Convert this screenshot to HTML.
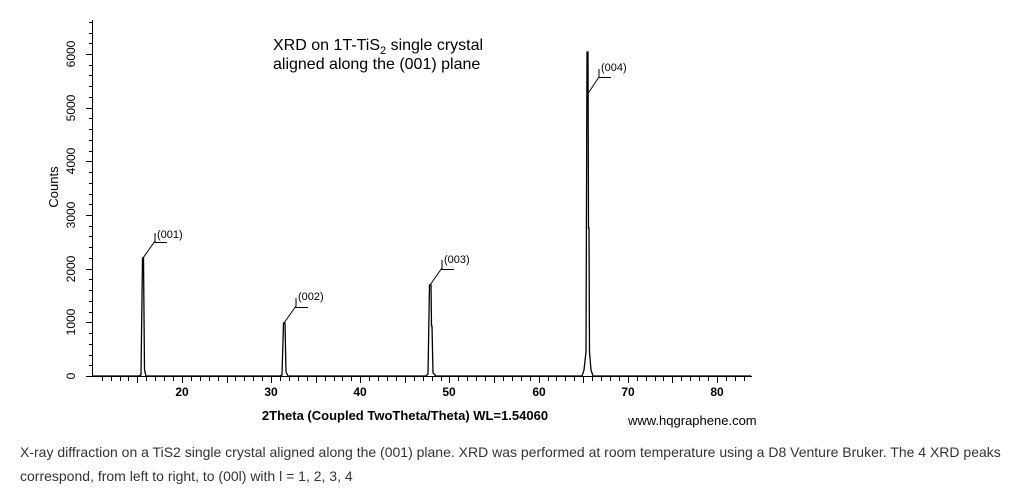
<!DOCTYPE html>
<html><head><meta charset="utf-8"><style>
body{margin:0;background:#fff;width:1013px;height:492px;overflow:hidden;font-family:"Liberation Sans",Arial,sans-serif}
.cap{position:absolute;left:20px;top:440px;width:990px;font-size:14px;line-height:24px;color:#333}
</style></head><body>
<svg width="1013" height="440" style="position:absolute;left:0;top:0" font-family="Liberation Sans, Arial, sans-serif">
<g stroke="#000" stroke-width="1" fill="none" shape-rendering="crispEdges">
<line x1="92.5" y1="20" x2="92.5" y2="377"/>
<line x1="92" y1="376.5" x2="752" y2="376.5"/>
</g>
<g id="ticks" stroke="#000" stroke-width="1" shape-rendering="crispEdges"></g>
<g font-size="12" text-anchor="middle" fill="#000">
<text transform="translate(75,376) rotate(-90)">0</text>
<text transform="translate(75,322) rotate(-90)">1000</text>
<text transform="translate(75,269) rotate(-90)">2000</text>
<text transform="translate(75,215) rotate(-90)">3000</text>
<text transform="translate(75,161) rotate(-90)">4000</text>
<text transform="translate(75,108) rotate(-90)">5000</text>
<text transform="translate(75,54) rotate(-90)">6000</text>
<text transform="translate(58,187) rotate(-90)" font-size="13">Counts</text>
</g>
<g font-size="12" font-weight="bold" text-anchor="middle">
<text x="182" y="396">20</text><text x="271" y="396">30</text><text x="360" y="396">40</text>
<text x="449" y="396">50</text><text x="539" y="396">60</text><text x="628" y="396">70</text><text x="717" y="396">80</text>
<text x="405" y="420" font-size="13">2Theta (Coupled TwoTheta/Theta) WL=1.54060</text>
</g>
<text x="628" y="425" font-size="13">www.hqgraphene.com</text>
<text x="273" y="50" font-size="16">XRD on 1T-TiS<tspan font-size="11" dy="4">2</tspan><tspan dy="-4"> single crystal</tspan></text>
<text x="273" y="69" font-size="16">aligned along the (001) plane</text>
<g stroke="#000" fill="none">
<path d="M92 376 H139 L141 375 L142.5 258 L143.5 258 L144.5 370 L146 376 H280 L282 375 L283.5 323 L285 323 L286 372 L288 376 H426 L428 374 L429.5 285 L431 285 L431.5 326 L432 326 L433 373 L436 376 H582 L584 370 L586 352 L587 52 L588 52 L588.5 228 L589 228 L589.5 352 L591 370 L593 376 H751" stroke-width="1.3"/>
<path d="M143 258 L155 241 M155 233 V243 M155 242.5 H167" stroke-width="1"/>
<path d="M284 323 L296 306 M296 298 V308 M296 307.5 H308"/>
<path d="M430 285 L442 268 M442 260 V270 M442 269.5 H454"/>
<path d="M587 95 L599 77 M599 69 V78 M599 77.5 H611"/>
</g>
<g font-size="11" fill="#000">
<text x="157" y="238">(001)</text><text x="298" y="300">(002)</text>
<text x="444" y="263">(003)</text><text x="601" y="71">(004)</text>
</g>
</svg>
<script>
var g=document.getElementById('ticks'),s='';
for(var v=11;v<=83;v++){var x=92.8+(v-10)*8.917;var L=(v%5==0)?6:4;s+='<line x1="'+(Math.round(x)+.5)+'" y1="377" x2="'+(Math.round(x)+.5)+'" y2="'+(377+L)+'"/>';}
for(var c=0;c<=6600;c+=200){var y=376-c*0.05367;var L=(c%1000==0)?6:3;s+='<line x1="'+(92-L)+'" y1="'+(Math.round(y)+.5)+'" x2="92" y2="'+(Math.round(y)+.5)+'"/>';}
g.innerHTML=s;
</script>
<div class="cap">X-ray diffraction on a TiS2 single crystal aligned along the (001) plane. XRD was performed at room temperature using a D8 Venture Bruker. The 4 XRD peaks correspond, from left to right, to (00l) with l = 1, 2, 3, 4</div>
</body></html>
